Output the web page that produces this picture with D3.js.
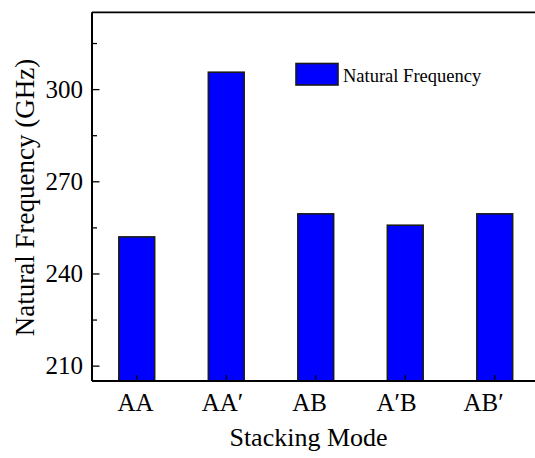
<!DOCTYPE html>
<html>
<head>
<meta charset="utf-8">
<script src="https://cdn.jsdelivr.net/npm/d3@7"></script>
<style>
  html, body { margin: 0; padding: 0; background: #fff; }
  svg text { font-family: "Liberation Serif", "Times New Roman", Times, "DejaVu Serif", serif !important; }
</style>
</head>
<body>
<svg id="chart" width="535" height="458"></svg>
<script>
// Natural frequency of each bilayer stacking mode (GHz)
const categories = ["AA", "AA\u2032", "AB", "A\u2032B", "AB\u2032"];
const frequencies = [251.9, 305.5, 259.4, 255.7, 259.4];
const yTicks = [210, 240, 270, 300];
const yMinorTicks = [225, 255, 285, 315];
const seriesName = "Natural Frequency";

const svg = d3.select("#chart");
const plotLeft = 92, plotRight = 539.5, plotTop = 12.3, plotBottom = 381;

const x = d3.scaleBand().domain(categories).range([plotLeft, plotRight]).paddingInner(0.6).paddingOuter(0.3);
const xLabel = d3.scaleBand().domain(categories).range([plotLeft, 527]);
const y = d3.scaleLinear().domain([205, 325]).range([plotBottom, plotTop]);

// bars
svg.append("g").selectAll("rect").data(categories).join("rect")
  .attr("x", d => x(d))
  .attr("y", (d, i) => y(frequencies[i]))
  .attr("width", x.bandwidth())
  .attr("height", (d, i) => plotBottom - y(frequencies[i]))
  .attr("fill", "#0000ff")
  .attr("stroke", "#1a1a1a")
  .attr("stroke-width", 1.6);

// frame: top edge
svg.append("line").attr("x1", plotLeft).attr("x2", plotRight).attr("y1", plotTop).attr("y2", plotTop)
  .attr("stroke", "#000").attr("stroke-width", 1.8);

// y axis, ticks pointing inward
const yAxis = svg.append("g").attr("transform", `translate(${plotLeft},0)`)
  .call(d3.axisLeft(y).tickValues(yTicks).tickSize(-7.5).tickPadding(9).tickFormat(d3.format("d")));
yAxis.select(".domain").attr("stroke-width", 2).attr("d", `M0,${plotTop}V${plotBottom}`);
yAxis.selectAll(".tick line").attr("stroke-width", 1.3);
yAxis.selectAll(".tick text").attr("font-size", 25).attr("fill", "#000");
svg.append("g").attr("transform", `translate(${plotLeft},0)`)
  .call(d3.axisLeft(y).tickValues(yMinorTicks).tickSize(-5).tickFormat(""))
  .call(g => g.select(".domain").remove())
  .selectAll("line").attr("stroke-width", 1.3);

// x axis, ticks pointing inward
const xAxis = svg.append("g").attr("transform", `translate(0,${plotBottom})`)
  .call(d3.axisBottom(x).tickSize(-6).tickFormat(""));
xAxis.select(".domain").attr("stroke-width", 2).attr("d", `M${plotLeft},0H${plotRight}`);
xAxis.selectAll(".tick line").attr("stroke-width", 1.3);

// category labels
svg.append("g").attr("transform", `translate(0,${plotBottom})`)
  .call(d3.axisBottom(xLabel).tickSize(0).tickPadding(12))
  .call(g => g.select(".domain").remove())
  .selectAll("text").attr("font-size", 25).attr("fill", "#000");

// axis titles
svg.append("text").attr("x", 308.5).attr("y", 446)
  .attr("text-anchor", "middle").attr("font-size", 26).attr("fill", "#000")
  .text("Stacking Mode");
svg.append("text").attr("transform", "translate(34,197.5) rotate(-90)")
  .attr("text-anchor", "middle").attr("font-size", 27).attr("fill", "#000")
  .text("Natural Frequency (GHz)");

// legend
const legend = svg.append("g").attr("transform", "translate(296,63.5)");
legend.append("rect").attr("width", 42).attr("height", 21.5)
  .attr("fill", "#0000ff").attr("stroke", "#1a1a1a").attr("stroke-width", 1.6);
legend.append("text").attr("x", 47).attr("y", 18).attr("font-size", 18.5).attr("fill", "#000")
  .text(seriesName);
</script>
</body>
</html>
